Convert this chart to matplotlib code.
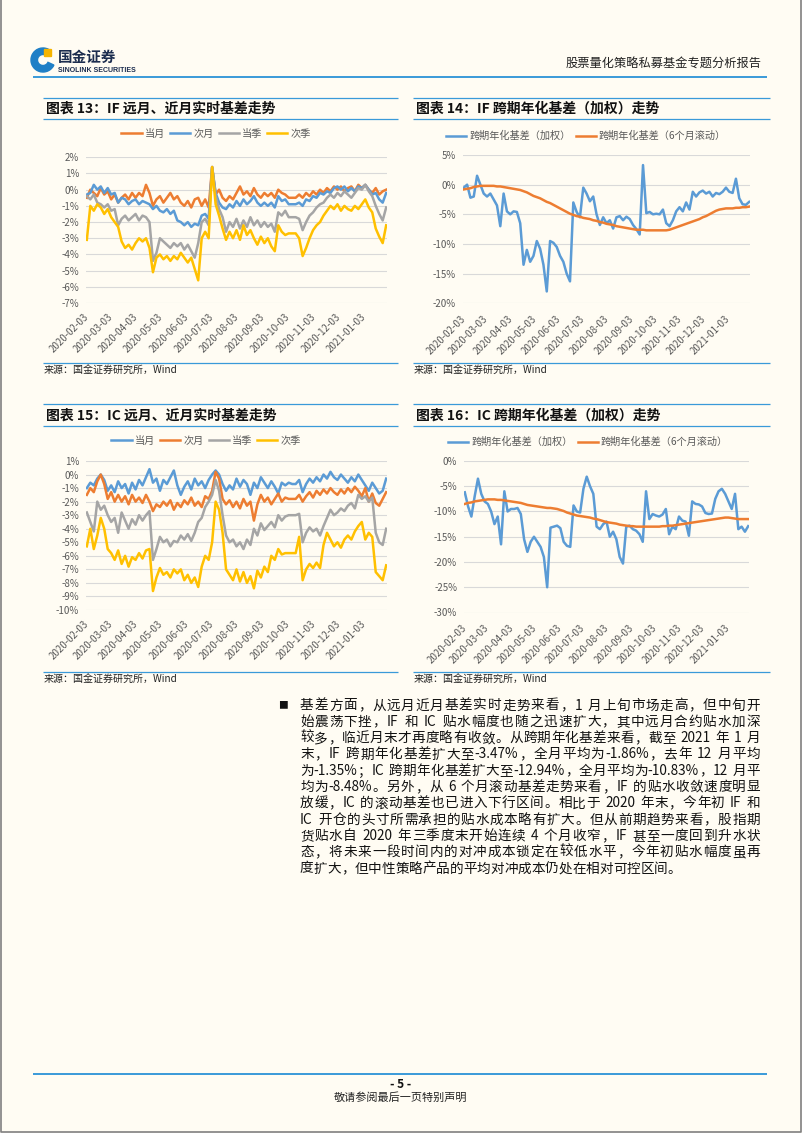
import numpy as np
import pandas as pd
import matplotlib
matplotlib.use('Agg')
import matplotlib.pyplot as plt
from matplotlib import patches, transforms
from matplotlib.ticker import FuncFormatter

plt.rcParams['font.family'] = ['Noto Sans CJK SC', 'DejaVu Sans']
plt.rcParams['axes.unicode_minus'] = False

# ---------------- data (values in %) ----------------
start_date, end_date = '2020-02-03', '2021-01-29'
tick_dates = ['2020-02-03', '2020-03-03', '2020-04-03', '2020-05-03', '2020-06-03', '2020-07-03',
              '2020-08-03', '2020-09-03', '2020-10-03', '2020-11-03', '2020-12-03', '2021-01-03']
basis_labels = ['当月', '次月', '当季', '次季']
annual_labels = ['跨期年化基差（加权）', '跨期年化基差（6个月滚动）']

# 图表13: IF
if_m0 = [-0.5, 0.0, -0.2, -0.4, 0.1, -0.3, -0.1, -0.6, -0.3, -0.8, -0.5, -0.3, -0.6, -0.2, -0.5, -0.2,
         -0.4, 0.3, -0.2, -1.0, -0.6, -0.4, -0.8, -0.5, -0.2, -0.6, -0.4, -0.8, -1.0, -0.7, -1.1, -0.6,
         -0.5, -1.0, -0.6, -1.1, 1.4, -0.3, 0.0, -0.5, -0.7, -0.4, -0.6, -0.2, 0.2, -0.3, -0.1, -0.4,
         0.1, -0.3, -0.5, -0.2, -0.4, -0.2, -0.5, 0.0, -0.2, -0.3, -0.5, -0.5, -0.5, -0.3, -0.5, -0.2,
         -0.4, -0.1, -0.3, 0.0, -0.2, 0.1, -0.1, 0.2, 0.0, 0.2, -0.1, 0.1, 0.2, -0.1, 0.3, 0.1,
         0.3, 0.0, -0.2, 0.1, -0.3, -0.1, 0.0]
if_m1 = [-0.3, -0.2, 0.3, 0.0, 0.2, -0.2, 0.1, -0.3, -0.2, -0.8, -0.5, -0.6, -0.9, -0.7, -0.6, -0.9,
         -0.7, -0.8, -0.9, -1.2, -1.0, -1.3, -1.4, -1.2, -1.5, -1.3, -1.9, -2.0, -2.2, -2.0, -2.3, -2.1,
         -2.2, -1.6, -1.5, -1.8, 1.4, -0.2, -0.8, -1.1, -1.2, -0.9, -1.1, -0.7, -1.0, -0.6, -0.9, -0.7,
         -0.4, -0.8, -1.0, -0.8, -1.0, -0.8, -1.1, -0.4, -0.7, -0.6, -0.9, -0.9, -0.9, -0.8, -1.0, -0.6,
         -0.7, -0.4, -0.5, -0.2, -0.3, -0.1, -0.2, 0.1, 0.2, 0.0, 0.2, -0.1, 0.1, -0.1, 0.2, 0.1,
         0.3, 0.0, -0.3, -0.2, -0.6, -0.8, -0.2]
if_q0 = [-0.4, -0.6, -0.3, -0.8, -0.9, -1.1, -0.9, -1.3, -1.2, -2.2, -1.8, -1.6, -1.9, -1.7, -1.5, -1.9,
         -1.6, -1.7, -2.0, -4.4, -3.9, -3.0, -3.2, -3.4, -3.6, -3.3, -3.5, -3.3, -3.7, -3.4, -3.8, -4.2,
         -3.3, -2.0, -1.8, -2.2, 1.4, -0.4, -1.2, -1.7, -2.6, -2.0, -2.3, -1.8, -2.4, -1.9, -2.3, -1.7,
         -2.2, -1.9, -2.3, -2.0, -2.3, -2.1, -2.6, -1.4, -1.6, -1.3, -1.7, -1.7, -1.7, -1.8, -2.5, -2.0,
         -1.6, -1.4, -1.1, -0.9, -0.8, -0.5, -0.3, -0.5, -0.2, -0.4, -0.1, -0.3, -0.5, -0.2, 0.1, 0.0,
         0.3, -0.1, -0.4, -1.0, -1.5, -1.9, -1.1]
if_q1 = [-3.1, -1.0, -1.3, -0.9, -1.1, -1.5, -1.2, -1.7, -2.0, -2.3, -3.2, -3.6, -3.4, -3.7, -3.3, -3.0,
         -3.2, -3.0, -3.6, -5.1, -4.2, -4.0, -4.3, -4.1, -4.4, -4.1, -4.3, -3.9, -4.2, -4.5, -4.2, -4.9,
         -5.6, -3.0, -2.6, -3.0, 1.4, -0.9, -1.6, -2.4, -3.1, -2.6, -3.0, -2.5, -3.1, -2.2, -2.8, -2.5,
         -3.0, -3.4, -2.9, -3.3, -3.0, -3.5, -3.8, -2.2, -2.6, -2.8, -2.7, -2.7, -2.7, -3.0, -4.1, -3.6,
         -3.0, -2.5, -2.2, -2.0, -1.6, -1.3, -1.0, -1.2, -0.9, -1.3, -1.0, -1.2, -1.3, -1.0, -1.2, -0.9,
         -0.6, -1.1, -1.4, -2.4, -2.9, -3.3, -2.2]

# 图表14: IF 跨期年化基差
if_ann = [-0.5, 0.0, -2.2, -2.0, 1.5, 0.0, -1.5, -2.0, -1.5, -2.5, -3.5, -7.0, -1.5, -4.5, -5.0, -4.5,
          -4.6, -6.5, -13.5, -11.0, -13.0, -12.0, -9.5, -10.8, -13.5, -18.0, -9.5, -9.8, -10.5, -12.0,
          -13.0, -15.0, -16.3, -3.0, -4.6, -5.5, -0.5, -1.5, -2.8, -2.0, -5.0, -6.8, -5.5, -6.5, -6.0,
          -7.4, -5.5, -5.3, -6.0, -5.4, -5.8, -6.8, -7.5, -8.4, 3.3, -4.8, -4.6, -5.0, -4.9, -5.0, -4.2,
          -6.5, -7.0, -6.0, -4.5, -3.8, -4.5, -3.0, -4.2, -1.2, -2.0, -1.3, -1.0, -1.5, -1.2, -2.0, -1.4,
          -1.6, -1.2, -0.5, -1.2, -1.4, 1.0, -2.3, -3.3, -3.4, -2.9]
if_roll = [-0.8, -0.7, -0.6, -0.4, -0.3, -0.2, -0.2, -0.2, -0.2, -0.2, -0.3, -0.3, -0.4, -0.5, -0.6,
           -0.7, -0.8, -0.9, -1.1, -1.3, -1.6, -1.9, -2.1, -2.3, -2.6, -2.9, -3.1, -3.4, -3.7, -4.0,
           -4.3, -4.6, -4.9, -5.1, -5.3, -5.4, -5.6, -5.7, -5.8, -6.0, -6.1, -6.3, -6.4, -6.6, -6.7,
           -6.8, -7.0, -7.1, -7.2, -7.3, -7.4, -7.5, -7.6, -7.6, -7.6, -7.7, -7.7, -7.7, -7.7, -7.7,
           -7.7, -7.7, -7.6, -7.4, -7.2, -7.0, -6.8, -6.6, -6.4, -6.2, -6.0, -5.8, -5.5, -5.3, -5.0,
           -4.7, -4.4, -4.2, -4.1, -4.0, -4.0, -4.0, -3.9, -3.9, -3.8, -3.8, -3.7]

# 图表15: IC
ic_m0 = [-1.0, -0.6, -0.8, -0.3, 0.0, -0.4, -1.2, -0.8, -1.3, -0.5, -1.0, -0.7, -1.4, -0.6, -1.1, -0.4,
         -0.8, -0.2, 0.4, -0.6, -0.3, -1.2, -0.4, -0.7, -0.2, 0.3, -0.8, -1.5, -0.9, -0.5, -1.1, -0.3,
         -0.8, -0.5, -1.0, -0.4, 0.0, 0.3, 0.0, -0.7, -1.2, -0.8, -1.1, -0.3, -0.9, -0.4, -0.7, -1.5,
         -0.6, -1.0, -0.2, -0.6, -1.0, -0.5, -0.9, -1.4, -0.6, -0.8, -0.6, -0.7, -0.7, -0.4, -1.3, -0.7,
         -0.3, -0.6, -0.2, -0.5, 0.0, -0.3, 0.2, -0.2, -0.4, 0.0, -0.3, -0.6, -0.2, -0.5, 0.0, -0.4,
         -0.8, -1.2, -0.6, -1.0, -1.4, -1.2, -0.3]
ic_m1 = [-1.5, -1.0, -1.3, -0.5, 0.0, -0.7, -1.8, -1.3, -2.0, -1.5, -2.0, -1.6, -2.2, -1.5, -2.0, -1.7,
         -2.1, -1.5, -2.0, -2.7, -2.2, -2.4, -2.0, -2.3, -1.9, -2.6, -2.1, -2.4, -1.9, -2.2, -1.7, -2.3,
         -2.0, -2.4, -1.6, -1.8, -1.2, 0.2, -0.3, -1.8, -2.2, -1.9, -2.4, -2.0, -2.5, -1.8, -2.3, -2.0,
         -3.4, -2.2, -1.5, -2.0, -1.7, -2.2, -1.8, -1.4, -2.0, -1.7, -1.8, -1.8, -1.8, -1.5, -2.0, -1.6,
         -1.3, -1.7, -1.2, -1.5, -1.1, -1.4, -1.0, -1.3, -1.5, -1.1, -1.4, -1.0, -1.3, -0.9, -1.2, -1.6,
         -1.0, -2.0, -1.4, -2.1, -2.3, -1.8, -1.3]
ic_q0 = [-2.8, -3.5, -4.2, -2.0, -2.6, -2.3, -3.0, -3.5, -3.2, -4.3, -2.8, -3.4, -4.0, -3.3, -3.7, -3.0,
         -3.4, -3.0, -2.7, -6.3, -5.5, -4.6, -5.0, -4.8, -5.3, -4.9, -5.0, -4.5, -4.8, -4.4, -4.9, -4.3,
         -3.5, -3.2, -2.4, -2.0, -1.5, -0.4, -1.2, -3.0, -4.5, -5.0, -4.8, -5.3, -5.0, -5.5, -4.8, -5.2,
         -4.0, -4.5, -3.6, -4.1, -3.8, -3.5, -3.9, -3.0, -3.4, -3.1, -3.0, -3.0, -3.0, -2.9, -5.0, -4.3,
         -3.9, -4.2, -4.0, -4.5, -3.8, -3.2, -2.6, -3.0, -2.8, -2.5, -2.7, -2.3, -2.1, -2.5, -1.5, -1.8,
         -1.6, -2.0, -1.7, -4.3, -5.0, -5.2, -4.0]
ic_q1 = [-5.3, -4.0, -5.5, -4.5, -3.2, -4.0, -5.5, -5.8, -6.3, -5.6, -6.6, -6.0, -6.8, -6.1, -6.3, -5.8,
         -6.2, -5.6, -5.5, -8.6, -7.6, -6.9, -7.4, -7.2, -7.6, -7.0, -7.3, -7.0, -7.8, -7.4, -8.0, -7.6,
         -8.3, -6.8, -6.0, -6.3, -5.0, -2.0, -2.6, -4.3, -7.0, -7.4, -7.8, -7.0, -7.9, -7.2, -8.0, -7.5,
         -8.4, -7.1, -7.6, -6.8, -7.2, -6.0, -6.3, -5.5, -5.9, -5.8, -5.8, -5.8, -5.8, -4.6, -7.8, -7.0,
         -6.6, -6.9, -6.5, -6.9, -5.2, -4.3, -4.8, -5.3, -5.0, -5.4, -4.8, -4.5, -4.8, -4.2, -3.8, -3.5,
         -4.8, -4.3, -4.6, -7.2, -7.5, -7.8, -6.7]

# 图表16: IC 跨期年化基差
ic_ann = [-6.2, -9.0, -11.0, -7.0, -3.5, -6.5, -8.0, -8.5, -10.0, -12.5, -11.0, -16.5, -6.0, -10.0,
          -9.5, -9.5, -9.3, -10.5, -15.5, -18.0, -16.0, -15.0, -16.0, -17.0, -19.0, -25.0, -13.2, -13.0,
          -12.8, -13.3, -16.0, -16.8, -17.0, -8.8, -10.0, -10.2, -5.5, -3.1, -5.0, -6.5, -13.0, -13.5,
          -12.5, -12.0, -15.0, -14.0, -15.5, -19.0, -20.3, -13.0, -12.8, -13.5, -13.8, -14.5, -16.0,
          -6.0, -11.5, -10.5, -10.8, -11.0, -10.6, -9.5, -14.5, -13.0, -13.5, -11.0, -11.8, -12.0,
          -14.8, -8.0, -8.5, -8.6, -9.0, -10.3, -10.5, -10.4, -7.5, -6.0, -5.5, -6.5, -8.0, -9.5, -6.5,
          -13.5, -13.0, -14.0, -12.9]
ic_roll = [-8.5, -8.3, -8.2, -8.0, -7.9, -7.8, -7.7, -7.6, -7.6, -7.6, -7.7, -7.7, -7.8, -7.9, -8.0,
           -8.1, -8.2, -8.3, -8.5, -8.7, -8.8, -8.9, -9.0, -9.1, -9.2, -9.3, -9.3, -9.4, -9.5, -9.7,
           -9.9, -10.2, -10.4, -10.6, -10.8, -10.9, -11.0, -11.1, -11.2, -11.4, -11.5, -11.7, -11.9,
           -12.1, -12.2, -12.3, -12.4, -12.6, -12.7, -12.8, -12.9, -12.9, -13.0, -13.0, -13.0, -13.0,
           -13.0, -13.0, -13.0, -13.0, -12.9, -12.9, -12.8, -12.8, -12.7, -12.6, -12.5, -12.4, -12.3,
           -12.2, -12.1, -12.0, -11.9, -11.8, -11.7, -11.6, -11.5, -11.4, -11.3, -11.2, -11.2, -11.3,
           -11.4, -11.5, -11.5, -11.5, -11.5]

body_lines = [
    '基差方面，从远月近月基差实时走势来看，1 月上旬市场走高，但中旬开',
    '始震荡下挫，IF 和 IC 贴水幅度也随之迅速扩大，其中远月合约贴水加深',
    '较多，临近月末才再度略有收敛。从跨期年化基差来看，截至 2021 年 1 月',
    '末，IF 跨期年化基差扩大至-3.47%，全月平均为-1.86%，去年 12 月平均',
    '为-1.35%；IC 跨期年化基差扩大至-12.94%，全月平均为-10.83%，12 月平',
    '均为-8.48%。另外，从 6 个月滚动基差走势来看，IF 的贴水收敛速度明显',
    '放缓，IC 的滚动基差也已进入下行区间。相比于 2020 年末，今年初 IF 和',
    'IC 开仓的头寸所需承担的贴水成本略有扩大。但从前期趋势来看，股指期',
    '货贴水自 2020 年三季度末开始连续 4 个月收窄，IF 甚至一度回到升水状',
    '态，将未来一段时间内的对冲成本锁定在较低水平，今年初贴水幅度虽再',
    '度扩大，但中性策略产品的平均对冲成本仍处在相对可控区间。',
]

# ---------------- styles ----------------
W, H = 802, 1133
BG = '#FFFCF3'
BLUE_LINE = '#3A9AD9'
C_ORANGE, C_BLUE, C_GRAY, C_YELLOW = '#ED7D31', '#5B9BD5', '#A5A5A5', '#FFC000'
TXT = '#595959'

fig = plt.figure(figsize=(W / 100, H / 100), dpi=100, facecolor=BG)

# page layer in pixel coordinates
page = fig.add_axes([0, 0, 1, 1], zorder=0)
page.set_xlim(0, W)
page.set_ylim(H, 0)
page.axis('off')


def hline(y, x0, x1, color=BLUE_LINE, lw=0.9):
    page.plot([x0, x1], [y, y], color=color, lw=lw, solid_capstyle='butt')


# page border
page.plot([0.5, 0.5, W - 1.5, W - 1.5], [0, H - 1.5, H - 1.5, 0], color='#808080', lw=1.2)

# header: logo + title
page.add_patch(patches.Wedge((43, 60), 12, 25, 300, width=6.5, color='#1F7FC6'))
page.add_patch(patches.FancyBboxPatch((45, 50), 6, 6, boxstyle='round,pad=0.5', color='#F5B400'))
page.text(58, 57, '国金证券', fontsize=10.5, fontweight='bold', color='#1C2D4F', va='center')
page.text(58, 70, 'SINOLINK SECURITIES', fontsize=5, fontweight='bold', color='#1C2D4F',
          va='center', family='Liberation Sans')
page.text(762, 64, '股票量化策略私募基金专题分析报告', fontsize=8.8, color='#222222', ha='right', va='center')
hline(77, 33, 767, lw=1.4)

# chart frames: title bars and source lines
frames = [
    (43, 398, 97.5, 119, 362.5, '图表 13：IF 远月、近月实时基差走势'),
    (413, 770, 97.5, 119, 362.5, '图表 14：IF 跨期年化基差（加权）走势'),
    (43, 398, 404, 426, 671.5, '图表 15：IC 远月、近月实时基差走势'),
    (413, 770, 404, 426, 671.5, '图表 16：IC 跨期年化基差（加权）走势'),
]
for x0, x1, yt, yb, ys, title in frames:
    hline(yt, x0, x1)
    hline(yb, x0, x1)
    hline(ys, x0, x1)
    page.text(x0 + 3, (yt + yb) / 2 + 0.5, title, fontsize=10, fontweight='bold', color='#111111', va='center')
    page.text(x0 + 1, ys + 8.5, '来源：国金证券研究所，Wind', fontsize=7.2, color='#222222', va='center')


def px_axes(x0, y0, x1, y1):
    return fig.add_axes([x0 / W, 1 - y1 / H, (x1 - x0) / W, (y1 - y0) / H], zorder=2)


def draw_chart(box, series, labels, yticks, legend_xy, ncol, dx, pad):
    ax = px_axes(*box)
    ax.set_facecolor('none')
    for vals, (name, color) in zip(series, labels):
        d = pd.date_range(start_date, end_date, periods=len(vals))
        ax.plot(d, vals, color=color, lw=1.8, label=name, solid_joinstyle='round')
    ax.set_ylim(yticks[0], yticks[-1])
    ax.set_yticks(yticks)
    ax.yaxis.set_major_formatter(FuncFormatter(lambda v, _: f'{int(round(v))}%'))
    ax.set_xlim(pd.Timestamp(start_date) - pd.Timedelta(days=1), pd.Timestamp(end_date) + pd.Timedelta(days=1))
    ax.set_xticks(pd.to_datetime(tick_dates))
    ax.set_xticklabels(tick_dates, rotation=45, ha='right', va='center', rotation_mode='anchor')
    shift = transforms.ScaledTranslation(dx / 100, 0, fig.dpi_scale_trans)
    for lab in ax.get_xticklabels():
        lab.set_transform(lab.get_transform() + shift)
    ax.tick_params(axis='x', length=0, pad=pad, labelsize=7, labelcolor=TXT)
    ax.tick_params(axis='y', length=0, pad=5, labelsize=7, labelcolor=TXT)
    ax.grid(axis='y', color='#D9D9D9', lw=0.8)
    ax.set_axisbelow(True)
    for s in ax.spines.values():
        s.set_visible(False)
    leg = ax.legend(loc='center', bbox_to_anchor=(legend_xy[0] / W, 1 - legend_xy[1] / H),
                    bbox_transform=fig.transFigure, ncol=ncol, frameon=False, fontsize=7.3,
                    handlelength=2.0, handletextpad=0.3, columnspacing=0.5)
    for t in leg.get_texts():
        t.set_color(TXT)
    return ax


draw_chart((86, 157.3, 387, 303), [if_m0, if_m1, if_q0, if_q1],
           list(zip(basis_labels, [C_ORANGE, C_BLUE, C_GRAY, C_YELLOW])),
           list(range(-7, 3)), (216, 134), 4, 7, 9)
draw_chart((463, 155, 750, 303.3), [if_ann, if_roll],
           list(zip(annual_labels, [C_BLUE, C_ORANGE])),
           list(range(-20, 6, 5)), (586, 136), 2, 5, 10)
draw_chart((86, 461, 387, 610), [ic_m0, ic_m1, ic_q0, ic_q1],
           list(zip(basis_labels, [C_BLUE, C_ORANGE, C_GRAY, C_YELLOW])),
           list(range(-10, 2)), (206, 441), 4, 7, 9)
draw_chart((464, 461, 749, 612.5), [ic_ann, ic_roll],
           list(zip(annual_labels, [C_BLUE, C_ORANGE])),
           list(range(-30, 1, 5)), (588, 442), 2, 5, 10)

# ---------------- body text (justified) ----------------
renderer = fig.canvas.get_renderer()
FS = 9.8
EM = FS * 100 / 72


def split_tokens(line):
    toks, buf = [], ''
    for ch in line:
        if ord(ch) < 128 and ch != ' ':
            buf += ch
        else:
            if buf:
                toks.append(buf)
                buf = ''
            toks.append(ch)
    if buf:
        toks.append(buf)
    return toks


def token_width(tok):
    if tok == ' ':
        return EM * 0.3
    if ord(tok[0]) >= 128:
        return EM
    t = page.text(0, 0, tok, fontsize=FS)
    w = t.get_window_extent(renderer).width
    t.remove()
    return w


x_left, x_right, y_first, spacing = 300, 760, 705, 16.3
page.text(283, y_first, '■', fontsize=7, color='#111111', ha='center', va='center')
for k, line in enumerate(body_lines):
    toks = split_tokens(line)
    widths = [token_width(t) for t in toks]
    last = k == len(body_lines) - 1
    gap = 0 if last else (x_right - x_left - sum(widths)) / (len(toks) - 1)
    x = x_left
    y = y_first + k * spacing + 4.5
    for t, w in zip(toks, widths):
        if t != ' ':
            page.text(x, y, t, fontsize=FS, color='#111111', ha='left', va='baseline')
        x += w + gap

# footer
hline(1074, 33, 767, lw=1.4)
page.text(401, 1084, '- 5 -', fontsize=8.5, fontweight='bold', color='#111111', ha='center', va='center')
page.text(401, 1098, '敬请参阅最后一页特别声明', fontsize=8, color='#222222', ha='center', va='center')

fig.savefig('out.png', dpi=100, facecolor=BG)
